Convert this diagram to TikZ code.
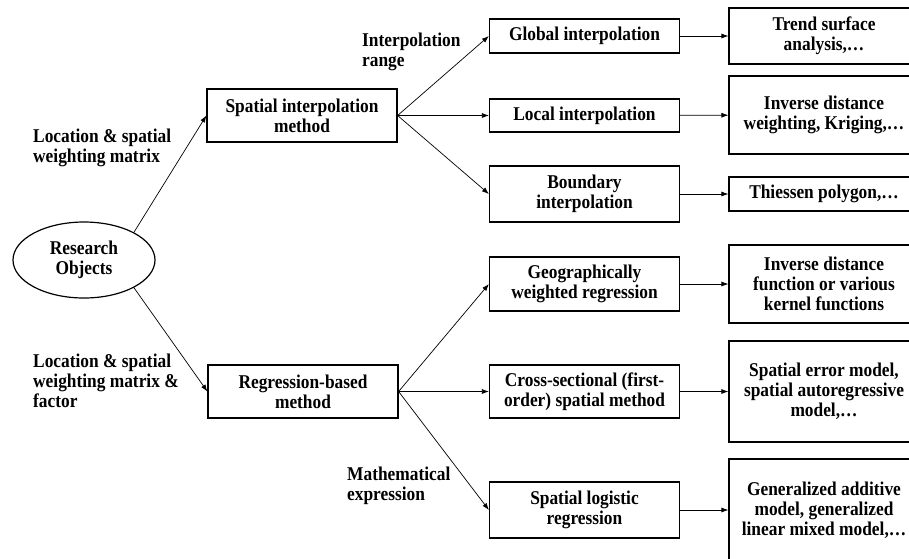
\documentclass[tikz,border=0pt]{standalone}
\usepackage{fontspec}
\setmainfont{Liberation Serif}[FakeStretch=0.89]
\usetikzlibrary{arrows.meta,positioning,shapes.geometric}

\begin{document}
\begin{tikzpicture}[x=1pt, y=-1pt,
  font=\fontsize{19.5}{20}\selectfont\bfseries,
  method/.style={draw, line width=1.2pt, minimum width=190pt, inner sep=0pt, align=center},
  result/.style={draw, line width=1.2pt, minimum width=190pt, inner sep=0pt, align=center},
  note/.style={align=left, anchor=west, inner sep=0pt},
  link/.style={line width=0.7pt, -{Latex[length=7pt,width=5pt]}}
]
\useasboundingbox (0,0) rectangle (909,558);

% start
\node[draw, ellipse, line width=1.2pt, minimum width=142pt, minimum height=76pt, inner sep=0pt, align=center] (ro) at (84,260) {Research\\Objects};

% first level
\node[method, minimum height=53pt] (sim) at (302,115.5) {Spatial interpolation\\method};
\node[method, minimum height=53pt] (rbm) at (303,391.5) {Regression-based\\method};

% second level
\node[method, minimum height=34pt] (glo) at (584.5,36) {Global interpolation};
\node[method, minimum height=33pt] (loc) at (584.5,115.5) {Local interpolation};
\node[method, minimum height=56pt] (bnd) at (584.5,194) {Boundary\\interpolation};
\node[method, minimum height=54pt] (gwr) at (584.5,284) {Geographically\\weighted regression};
\node[method, minimum height=53pt] (csm) at (584.5,391.5) {Cross-sectional (first-\\order) spatial method};
\node[method, minimum height=56pt] (slr) at (584.5,510) {Spatial logistic\\regression};

% results
\node[result, minimum height=56pt] (trend) at (824,36) {Trend surface\\analysis,\dots};
\node[result, minimum height=78pt] (idw) at (824,115) {Inverse distance\\weighting, Kriging,\dots};
\node[result, minimum height=34pt] (thi) at (824,194) {Thiessen polygon,\dots};
\node[result, minimum height=78pt] (idf) at (824,284) {Inverse distance\\function or various\\kernel functions};
\node[result, minimum height=101pt] (sem) at (824,391.5) {Spatial error model,\\spatial autoregressive\\model,\dots};
\node[result, minimum height=102pt] (gam) at (824,510) {Generalized additive\\model, generalized\\linear mixed model,\dots};

% edge texts
\node[note] (lwm) at (33,148) {Location \& spatial\\weighting matrix};
\node[note] (lwf) at (33,381) {Location \& spatial\\weighting matrix \&\\factor};
\node[note] (irange) at (362,52) {Interpolation\\range};
\node[note] (mexp) at (347,486) {Mathematical\\expression};

\draw[link] (ro.29) -- (sim.west);
\draw[link] (ro.-29) -- (rbm.west);
\foreach \m in {glo,loc,bnd}
  \draw[link] (sim.east) -- (\m.west);
\foreach \m in {gwr,csm,slr}
  \draw[link] (rbm.east) -- (\m.west);
\draw[link] (glo) -- (trend);
\draw[link] (loc) -- (idw);
\draw[link] (bnd) -- (thi);
\draw[link] (gwr) -- (idf);
\draw[link] (csm) -- (sem);
\draw[link] (slr) -- (gam);
\end{tikzpicture}
\end{document}
